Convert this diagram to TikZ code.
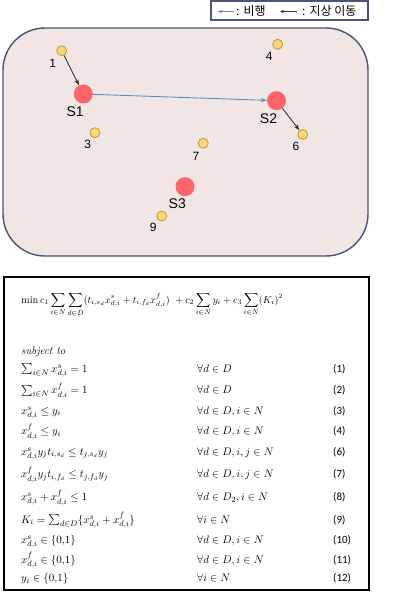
\documentclass[tikz,border=0pt]{standalone}
\usepackage{amsmath}
\usepackage{fontspec}
\newfontfamily\labfont{Liberation Sans}
\newfontfamily\krfont{Noto Sans CJK KR}
\newfontfamily\numfont{Carlito}
\usetikzlibrary{arrows.meta}
\definecolor{bgpink}{HTML}{F2E6E5}
\definecolor{frameblue}{HTML}{4A5475}
\definecolor{nodeyel}{HTML}{F8D874}
\definecolor{nodeyelb}{HTML}{B89B3C}
\definecolor{nodered}{HTML}{FF6469}
\definecolor{flyblue}{HTML}{5B8FC4}
\definecolor{ground}{HTML}{333333}
\tikzset{
  ynode/.style={circle,draw=nodeyelb,fill=nodeyel,line width=0.8pt,minimum size=10pt,inner sep=0pt},
  rnode/.style={circle,fill=nodered,minimum size=19pt,inner sep=0pt},
  numlab/.style={font=\labfont\fontsize{12}{12}\selectfont,inner sep=0pt},
  slab/.style={font=\labfont\fontsize{14}{14}\selectfont,inner sep=0pt},
  gar/.style={draw=ground,line width=0.9pt,-{Stealth[length=6pt,width=4.5pt]}},
  far/.style={draw=flyblue,line width=0.9pt,-{Stealth[length=6pt,width=4.5pt]}},
  legtxt/.style={font=\krfont\fontsize{12}{12}\selectfont,inner sep=0pt,anchor=west},
  eqo/.style={font=\fontsize{10.3}{12}\selectfont,inner sep=0pt,anchor=base west},
  eq/.style={font=\fontsize{11}{12}\selectfont,inner sep=0pt,anchor=base west},
  eqnum/.style={font=\numfont\fontsize{11}{12}\selectfont,inner sep=0pt,anchor=base west}
}
\begin{document}
\begin{tikzpicture}[x=1pt,y=-1pt]
\useasboundingbox (0,0) rectangle (403,592);
\fill[white] (0,0) rectangle (403,592);
% legend
\draw[frameblue,line width=1.4pt,fill=white] (211,1) rectangle (368,20);
\coordinate (lb1) at (234,11.5);
\coordinate (lb2) at (218,11.5);
\coordinate (lk1) at (297,11.5);
\coordinate (lk2) at (280,11.5);
\draw[draw=flyblue,line width=0.8pt,-{Stealth[length=4pt,width=3.5pt]}] (lb1) -- (lb2);
\draw[draw=ground,line width=0.8pt,-{Stealth[length=4pt,width=3.5pt]}] (lk1) -- (lk2);
\node[legtxt] (t1) at (236,11) {:\,\,비행};
\node[legtxt] (t2) at (302,11) {:\,\,지상 이동};
% area
\draw[frameblue,line width=1.4pt,fill=bgpink,rounded corners=42pt] (3,28) rectangle (368,256);
\node[ynode] (n1) at (61.7,50.7) {};
\node[ynode] (n4) at (277.7,44.3) {};
\node[ynode] (n3) at (95,132.7) {};
\node[ynode] (n7) at (203.3,143.3) {};
\node[ynode] (n6) at (302.7,134.5) {};
\node[ynode] (n9) at (161.7,216) {};
\node[rnode] (s1) at (83.3,94) {};
\node[rnode] (s2) at (276.5,100.7) {};
\node[rnode] (s3) at (185,186.7) {};
\node[numlab] (l1) at (52.7,63.2) {1};
\node[numlab] (l4) at (269.3,56.7) {4};
\node[numlab] (l3) at (87.7,144.5) {3};
\node[numlab] (l7) at (196,156) {7};
\node[numlab] (l6) at (296,146.5) {6};
\node[numlab] (l9) at (153.3,227.7) {9};
\node[slab] (ls1) at (75.2,111.8) {S1};
\node[slab] (ls2) at (268.5,118.8) {S2};
\node[slab] (ls3) at (177.3,203.5) {S3};
\draw[gar] (n1) -- (s1);
\draw[far] (s1) -- (s2);
\draw[gar] (s2) -- (n6);
% model box
\draw[black,line width=2pt] (3.5,277) rectangle (368.5,589.5);
\node[eqo] (obj) at (21,303) {$\displaystyle \min c_1 \sum_{i\in N}\sum_{d\in D}(t_{i,s_d}x^s_{d,i} + t_{i,f_d}x^f_{d,i})\ + c_2\sum_{i\in N} y_i + c_3\sum_{i\in N}(K_i)^2$};
\node[eq] (subj) at (21,354) {\itshape subject to};
\node[eq] (c1) at (21,372) {$\sum_{i\in N} x^s_{d,i} = 1$};
\node[eq] (q1) at (197,372) {$\forall d\in D$};
\node[eqnum] (k1) at (333,372) {(1)};
\node[eq] (c2) at (21,393.5) {$\sum_{i\in N} x^f_{d,i} = 1$};
\node[eq] (q2) at (197,393.5) {$\forall d\in D$};
\node[eqnum] (k2) at (333,393.5) {(2)};
\node[eq] (c3) at (21,414) {$x^s_{d,i} \le y_i$};
\node[eq] (q3) at (197,414) {$\forall d\in D, i\in N$};
\node[eqnum] (k3) at (333,414) {(3)};
\node[eq] (c4) at (21,434.5) {$x^f_{d,i} \le y_i$};
\node[eq] (q4) at (197,434.5) {$\forall d\in D, i\in N$};
\node[eqnum] (k4) at (333,434.5) {(4)};
\node[eq] (c6) at (21,455) {$x^s_{d,i}y_j t_{i,s_d} \le t_{j,s_d}y_j$};
\node[eq] (q6) at (197,455) {$\forall d\in D, i,j\in N$};
\node[eqnum] (k6) at (333,455) {(6)};
\node[eq] (c7) at (21,477.5) {$x^f_{d,i}y_j t_{i,f_d} \le t_{j,f_d}y_j$};
\node[eq] (q7) at (197,477.5) {$\forall d\in D, i,j\in N$};
\node[eqnum] (k7) at (333,477.5) {(7)};
\node[eq] (c8) at (21,500.5) {$x^s_{d,i} + x^f_{d,i} \le 1$};
\node[eq] (q8) at (197,500.5) {$\forall d\in D_2, i\in N$};
\node[eqnum] (k8) at (333,500.5) {(8)};
\node[eq] (c9) at (21,523) {$K_i = \sum_{d\in D}\{x^s_{d,i} + x^f_{d,i}\}$};
\node[eq] (q9) at (197,523) {$\forall i\in N$};
\node[eqnum] (k9) at (333,523) {(9)};
\node[eq] (c10) at (21,543) {$x^s_{d,i}\in\{0{,}1\}$};
\node[eq] (q10) at (197,543) {$\forall d\in D, i\in N$};
\node[eqnum] (k10) at (333,543) {(10)};
\node[eq] (c11) at (21,563) {$x^f_{d,i}\in\{0{,}1\}$};
\node[eq] (q11) at (197,563) {$\forall d\in D, i\in N$};
\node[eqnum] (k11) at (333,563) {(11)};
\node[eq] (c12) at (21,581.5) {$y_i\in\{0{,}1\}$};
\node[eq] (q12) at (197,581.5) {$\forall i\in N$};
\node[eqnum] (k12) at (333,581.5) {(12)};
\end{tikzpicture}
\end{document}
